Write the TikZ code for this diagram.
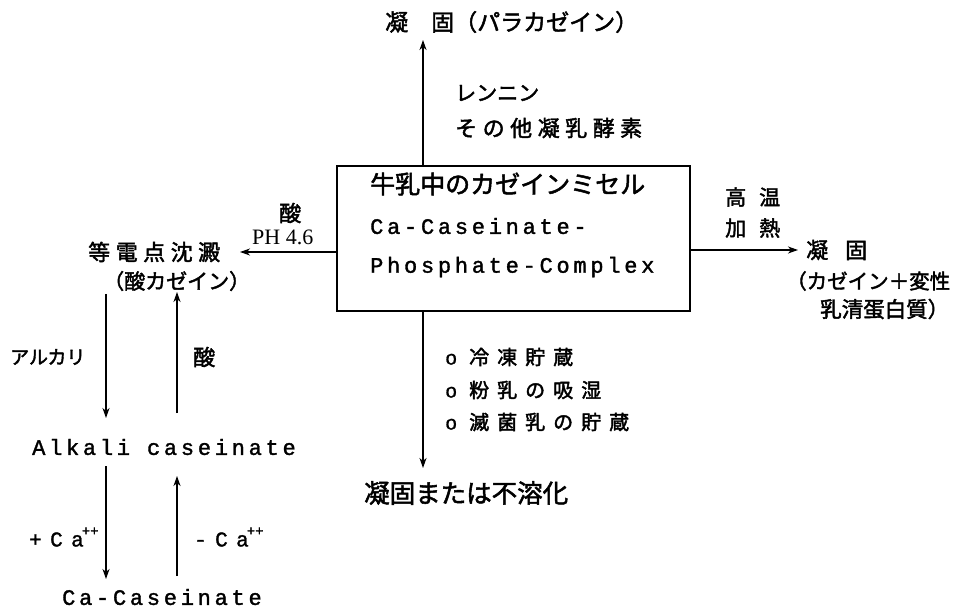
\documentclass[tikz,border=0pt]{standalone}
\usepackage{fontspec}
\setmainfont{Liberation Serif}
\newfontfamily\jp[FakeBold=2]{Noto Sans CJK JP}
\newfontfamily\jpw[LetterSpace=25,FakeBold=2]{Noto Sans CJK JP}
\newfontfamily\jpb[LetterSpace=40,FakeBold=2]{Noto Sans CJK JP}
\newfontfamily\tw[LetterSpace=17,FakeBold=1.5]{Liberation Mono}
\newfontfamily\twc[LetterSpace=40,FakeBold=1.5]{Liberation Mono}
\newfontfamily\twn[FakeBold=1]{Liberation Mono}
\newcommand\JS[1]{\jp\fontsize{#1}{#1}\selectfont}
\newcommand\JW[1]{\jpw\fontsize{#1}{#1}\selectfont}
\newcommand\JB[1]{\jpb\fontsize{#1}{#1}\selectfont}
\newcommand\TW{\tw\fontsize{22}{22}\selectfont}
\newcommand\TC{\twc\fontsize{21}{21}\selectfont}
\newcommand\SUP[1]{\raisebox{11pt}{\twn\fontsize{14}{14}\selectfont #1}}
\newcommand\BUL{{\twn\fontsize{20}{20}\selectfont o}\hspace{12pt}}
\usetikzlibrary{arrows.meta}
\tikzset{
  lbl/.style={inner sep=0pt, anchor=west},
  arr/.style={line width=1.2pt, -{Stealth[length=10pt,width=7pt,inset=3pt]}},
  boxstyle/.style={draw, line width=1.3pt, inner sep=0pt, minimum width=353pt, minimum height=145pt}
}
\begin{document}
\begin{tikzpicture}[x=1pt,y=-1pt]
\useasboundingbox[fill=white] (0,0) rectangle (961,612);

% central box
\node[boxstyle] (box) at (513.5,238.5) {};
\node[lbl] (b1) at (370,184) {\JS{25}牛乳中のカゼインミセル};
\node[lbl] (b2) at (370,226) {\TW Ca-Caseinate-};
\node[lbl] (b3) at (370,267) {\TW Phosphate-Complex};

% top branch
\node[lbl] (top) at (385,22) {\JS{23}凝　固（パラカゼイン）};
\node[lbl] (ren) at (455,93) {\JS{21}レンニン};
\node[lbl] (oth) at (455,128) {\JW{22}その他凝乳酵素};
\coordinate (topend) at (423,40);
\coordinate (topstart) at (423,166);
\draw[arr] (topstart) -- (topend);

% left branch
\node[lbl] (acid1) at (279,213) {\JS{22}酸};
\node[lbl] (ph) at (252,237) {\fontsize{22}{22}\selectfont PH 4.6};
\node[lbl] (iso) at (88,252) {\JW{22}等電点沈澱};
\node[lbl] (acas) at (103,281) {\JS{21}（酸カゼイン）};
\coordinate (lstart) at (337,252);
\coordinate (lend) at (240,252);
\draw[arr] (lstart) -- (lend);

% right branch
\node[lbl] (hot1) at (725,197) {\JS{21}高\hspace{13pt}温};
\node[lbl] (hot2) at (725,228) {\JS{21}加\hspace{13pt}熱};
\node[lbl] (coag) at (806,250) {\JS{22}凝\hspace{17pt}固};
\node[lbl] (r1) at (786,281) {\JS{20.5}（カゼイン＋変性};
\node[lbl] (r2) at (820,309) {\JS{21.5}乳清蛋白質）};
\coordinate (rstart) at (690,250);
\coordinate (rend) at (798,250);
\draw[arr] (rstart) -- (rend);

% bottom branch
\node[lbl] (c1) at (445,357) {\BUL\JB{20}冷凍貯蔵};
\node[lbl] (c2) at (445,390) {\BUL\JB{20}粉乳の吸湿};
\node[lbl] (c3) at (445,422) {\BUL\JB{20}滅菌乳の貯蔵};
\node[lbl] (ins) at (364,493) {\JS{25.5}凝固または不溶化};
\coordinate (dstart) at (423,311);
\coordinate (dend) at (423,468);
\draw[arr] (dstart) -- (dend);

% left column
\node[lbl] (alk) at (10,357) {\JS{19}アルカリ};
\node[lbl] (acid2) at (193,357) {\JS{22}酸};
\node[lbl] (akc) at (32,447) {\TW Alkali caseinate};
\node[lbl] (pca) at (29,537) {\TC +Ca\hspace{-2pt}\SUP{++}};
\node[lbl] (mca) at (194,537) {\TC -Ca\hspace{-2pt}\SUP{++}};
\node[lbl] (cac) at (62,597) {\TW Ca-Caseinate};

\coordinate (a1s) at (106,294);
\coordinate (a1e) at (106,418);
\coordinate (a2s) at (177,413);
\coordinate (a2e) at (177,292);
\coordinate (a3s) at (106,466);
\coordinate (a3e) at (106,579);
\coordinate (a4s) at (177,576);
\coordinate (a4e) at (177,476);
\draw[arr] (a1s) -- (a1e);
\draw[arr] (a2s) -- (a2e);
\draw[arr] (a3s) -- (a3e);
\draw[arr] (a4s) -- (a4e);
\end{tikzpicture}
\end{document}
